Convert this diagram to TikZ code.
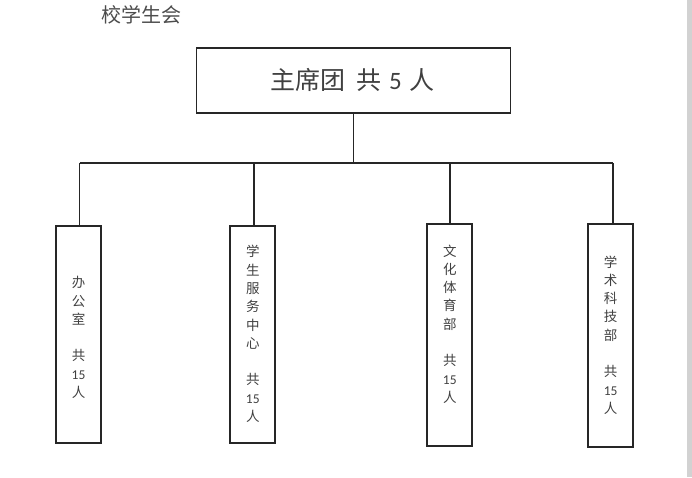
\documentclass[tikz,border=0pt]{standalone}
\usepackage{fontspec}
\setmainfont{Noto Sans CJK SC}
\newfontfamily\carl{Carlito}
\begin{document}
\begin{tikzpicture}[x=1pt,y=-1pt,
  box/.style={draw=black!85,line width=1.8pt,inner sep=0pt},
  wire/.style={draw=black!85,line width=1.5pt},
  dept/.style={box,minimum width=45pt},
  lbl/.style={text=black!75,align=center,inner sep=0pt,font=\fontsize{13.5}{18.3}\selectfont}]
\useasboundingbox (0,0) rectangle (692,477);
\fill[gray!35] (687,0) rectangle (692,477);
\node[text=black!70,font=\fontsize{20}{24}\selectfont,inner sep=0pt] (title) at (141,15) {校学生会};
\node[box,minimum width=314pt,minimum height=65.6pt] (top) at (353.5,80.5) {};
\node[text=black!75,font=\fontsize{25}{29}\selectfont,inner sep=0pt] (toptext) at (352.5,80) {主席团\hspace{11pt}共\hspace{8pt}{\carl 5}\hspace{8pt}人};
\node[dept,minimum height=217pt] (b1) at (78.5,334.2) {};
\node[dept,minimum height=217pt] (b2) at (252.8,334.5) {};
\node[dept,minimum height=221.4pt] (b3) at (449.8,335) {};
\node[dept,minimum height=223pt] (b4) at (610.6,335.8) {};
\node[lbl] (t1) at (78.5,337.5) {办\\公\\室\\[18.3pt]共\\{\carl 15}\\人};
\node[lbl] (t2) at (252.8,334) {学\\生\\服\\务\\中\\心\\[18.3pt]共\\{\carl 15}\\人};
\node[lbl] (t3) at (449.8,324) {文\\化\\体\\育\\部\\[18.3pt]共\\{\carl 15}\\人};
\node[lbl] (t4) at (610.6,335) {学\\术\\科\\技\\部\\[18.3pt]共\\{\carl 15}\\人};
\coordinate (j) at (353.5,163);
\coordinate (L) at (79.5,163);
\coordinate (R) at (613,163);
\draw[wire] (top.south) -- (j);
\draw[wire] (L) -- (R);
\draw[wire] (b1.north -| L) -- (L);
\draw[wire] (b2.north) ++(1,0) -- (253.8,163);
\draw[wire] (b3.north) -- (b3.north |- j);
\draw[wire] (b4.north -| R) -- (R);
\end{tikzpicture}
\end{document}
